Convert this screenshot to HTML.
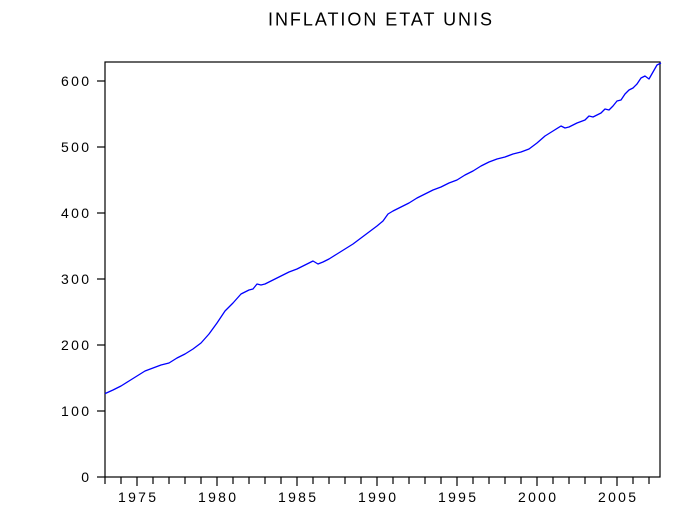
<!DOCTYPE html>
<html><head><style>html,body{margin:0;padding:0;background:#fff;}svg{display:block;}</style></head>
<body>
<svg width="693" height="523" xmlns="http://www.w3.org/2000/svg" font-family="Liberation Sans, sans-serif">
<text x="268" y="25.5" font-size="18" textLength="224" lengthAdjust="spacing" fill="#000" transform="translate(0,0)">INFLATION ETAT UNIS</text>
<rect x="105" y="62" width="555" height="415" fill="none" stroke="#000" stroke-width="1.2"/>
<g stroke="#000" stroke-width="1.2">
<line x1="97" y1="477" x2="105" y2="477"/><line x1="97" y1="411" x2="105" y2="411"/>
<line x1="97" y1="345" x2="105" y2="345"/><line x1="97" y1="279" x2="105" y2="279"/>
<line x1="97" y1="213" x2="105" y2="213"/><line x1="97" y1="147" x2="105" y2="147"/>
<line x1="97" y1="81" x2="105" y2="81"/>
</g>
<g font-size="14" fill="#000" text-anchor="end">
<text x="89" y="482">0</text>
<text x="89" y="416" textLength="28" lengthAdjust="spacing">100</text>
<text x="89" y="350" textLength="28" lengthAdjust="spacing">200</text>
<text x="89" y="284" textLength="28" lengthAdjust="spacing">300</text>
<text x="89" y="218" textLength="28" lengthAdjust="spacing">400</text>
<text x="89" y="152" textLength="28" lengthAdjust="spacing">500</text>
<text x="89" y="86" textLength="28" lengthAdjust="spacing">600</text>
</g>
<g font-size="14" fill="#000">
<text x="118" y="502" textLength="38" lengthAdjust="spacing">1975</text>
<text x="198" y="502" textLength="38" lengthAdjust="spacing">1980</text>
<text x="278" y="502" textLength="38" lengthAdjust="spacing">1985</text>
<text x="358" y="502" textLength="38" lengthAdjust="spacing">1990</text>
<text x="438" y="502" textLength="38" lengthAdjust="spacing">1995</text>
<text x="518" y="502" textLength="38" lengthAdjust="spacing">2000</text>
<text x="598" y="502" textLength="38" lengthAdjust="spacing">2005</text>
</g>
<g stroke="#000" stroke-width="1.2">
<line x1="105" y1="477" x2="105" y2="484"/><line x1="121" y1="477" x2="121" y2="484"/>
<line x1="137" y1="477" x2="137" y2="486"/><line x1="153" y1="477" x2="153" y2="484"/>
<line x1="169" y1="477" x2="169" y2="484"/><line x1="185" y1="477" x2="185" y2="484"/>
<line x1="201" y1="477" x2="201" y2="484"/><line x1="217" y1="477" x2="217" y2="486"/>
<line x1="233" y1="477" x2="233" y2="484"/><line x1="249" y1="477" x2="249" y2="484"/>
<line x1="265" y1="477" x2="265" y2="484"/><line x1="281" y1="477" x2="281" y2="484"/>
<line x1="297" y1="477" x2="297" y2="486"/><line x1="313" y1="477" x2="313" y2="484"/>
<line x1="329" y1="477" x2="329" y2="484"/><line x1="345" y1="477" x2="345" y2="484"/>
<line x1="361" y1="477" x2="361" y2="484"/><line x1="377" y1="477" x2="377" y2="486"/>
<line x1="393" y1="477" x2="393" y2="484"/><line x1="409" y1="477" x2="409" y2="484"/>
<line x1="425" y1="477" x2="425" y2="484"/><line x1="441" y1="477" x2="441" y2="484"/>
<line x1="457" y1="477" x2="457" y2="486"/><line x1="473" y1="477" x2="473" y2="484"/>
<line x1="489" y1="477" x2="489" y2="484"/><line x1="505" y1="477" x2="505" y2="484"/>
<line x1="521" y1="477" x2="521" y2="484"/><line x1="537" y1="477" x2="537" y2="486"/>
<line x1="553" y1="477" x2="553" y2="484"/><line x1="569" y1="477" x2="569" y2="484"/>
<line x1="585" y1="477" x2="585" y2="484"/><line x1="601" y1="477" x2="601" y2="484"/>
<line x1="617" y1="477" x2="617" y2="486"/><line x1="633" y1="477" x2="633" y2="484"/>
<line x1="649" y1="477" x2="649" y2="484"/>
</g>
<polyline fill="none" stroke="#0000ff" stroke-width="1.3" stroke-linejoin="round" points="
105,393.6 113,390 121,386 129,381 137,376 145,371 153,368 161,365 169,363 177,358 185,354 193,349 201,343 209,334 217,323 225,311 233,303 241,294 249,290 253,289 257,284 261,285 265,284 273,280 281,276 289,272 297,269 305,265 313,261 318,264 323,262 329,259 337,254 345,249 353,244 361,238 369,232 377,226 383,221 388,214 393,211 401,207 409,203 417,198 425,194 433,190 441,187 449,183 457,180 465,175 473,171 481,166 489,162 497,159 505,157 513,154 521,152 529,149 537,143 545,136 553,131 561,126 565,128 569,127 577,123 585,120 589,116 593,117 601,113 605,109 609,110 613,106 617,101 621,100 625,94 629,90 633,88 637,84 641,78 645,76 649,79 653,72 657,65 661,63"/>
</svg>
</body></html>
